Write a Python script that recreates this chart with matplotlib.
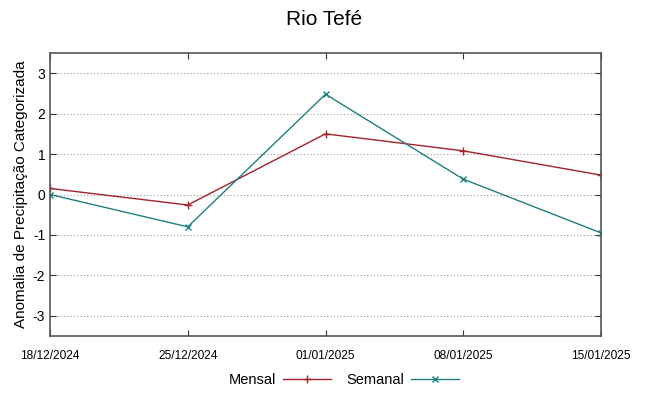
import matplotlib
matplotlib.use("Agg")
import matplotlib.pyplot as plt

plt.rcParams['font.family'] = ['Liberation Sans', 'DejaVu Sans']

datas = ['18/12/2024', '25/12/2024', '01/01/2025', '08/01/2025', '15/01/2025']
mensal = [0.15, -0.26, 1.5, 1.08, 0.48]
semanal = [0.0, -0.8, 2.48, 0.38, -0.95]
yticks = [-3, -2, -1, 0, 1, 2, 3]

fig = plt.figure(figsize=(6.49, 3.96), dpi=100)
ax = fig.add_axes([50/649, 60/396, 551/649, 283/396])

x = list(range(len(datas)))
ax.plot(x, mensal, color='#a3222a', lw=1, marker='+', ms=6, mew=1, label='Mensal')
ax.plot(x, semanal, color='#1f7f7f', lw=1, marker='x', ms=5, mew=1, label='Semanal')

ax.set_xlim(0, len(datas) - 1)
ax.set_ylim(-3.5, 3.5)
ax.set_yticks(yticks)
ax.set_yticklabels([str(v) for v in yticks], fontsize=10)
ax.set_xticks(x)
ax.set_xticklabels(datas, fontsize=8.6)
ax.tick_params(axis='both', direction='in', top=True, right=True, length=4, color='#333333')
ax.tick_params(axis='x', pad=10)
ax.grid(axis='y', linestyle=(0, (1, 2)), color='#999999', lw=0.8)
for s in ax.spines.values():
    s.set_color('#555555')
    s.set_linewidth(1.2)

ax.set_ylabel('Anomalia de Precipitação Categorizada', fontsize=11, labelpad=3)
fig.suptitle('Rio Tefé', fontsize=15, y=0.975)

fig.legend(loc='lower center', bbox_to_anchor=(0.53, -0.01), ncol=2, frameon=False,
           markerfirst=False, fontsize=10.5, handlelength=3.3, columnspacing=1.0,
           handletextpad=0.5)

fig.savefig('out.png', dpi=100)
